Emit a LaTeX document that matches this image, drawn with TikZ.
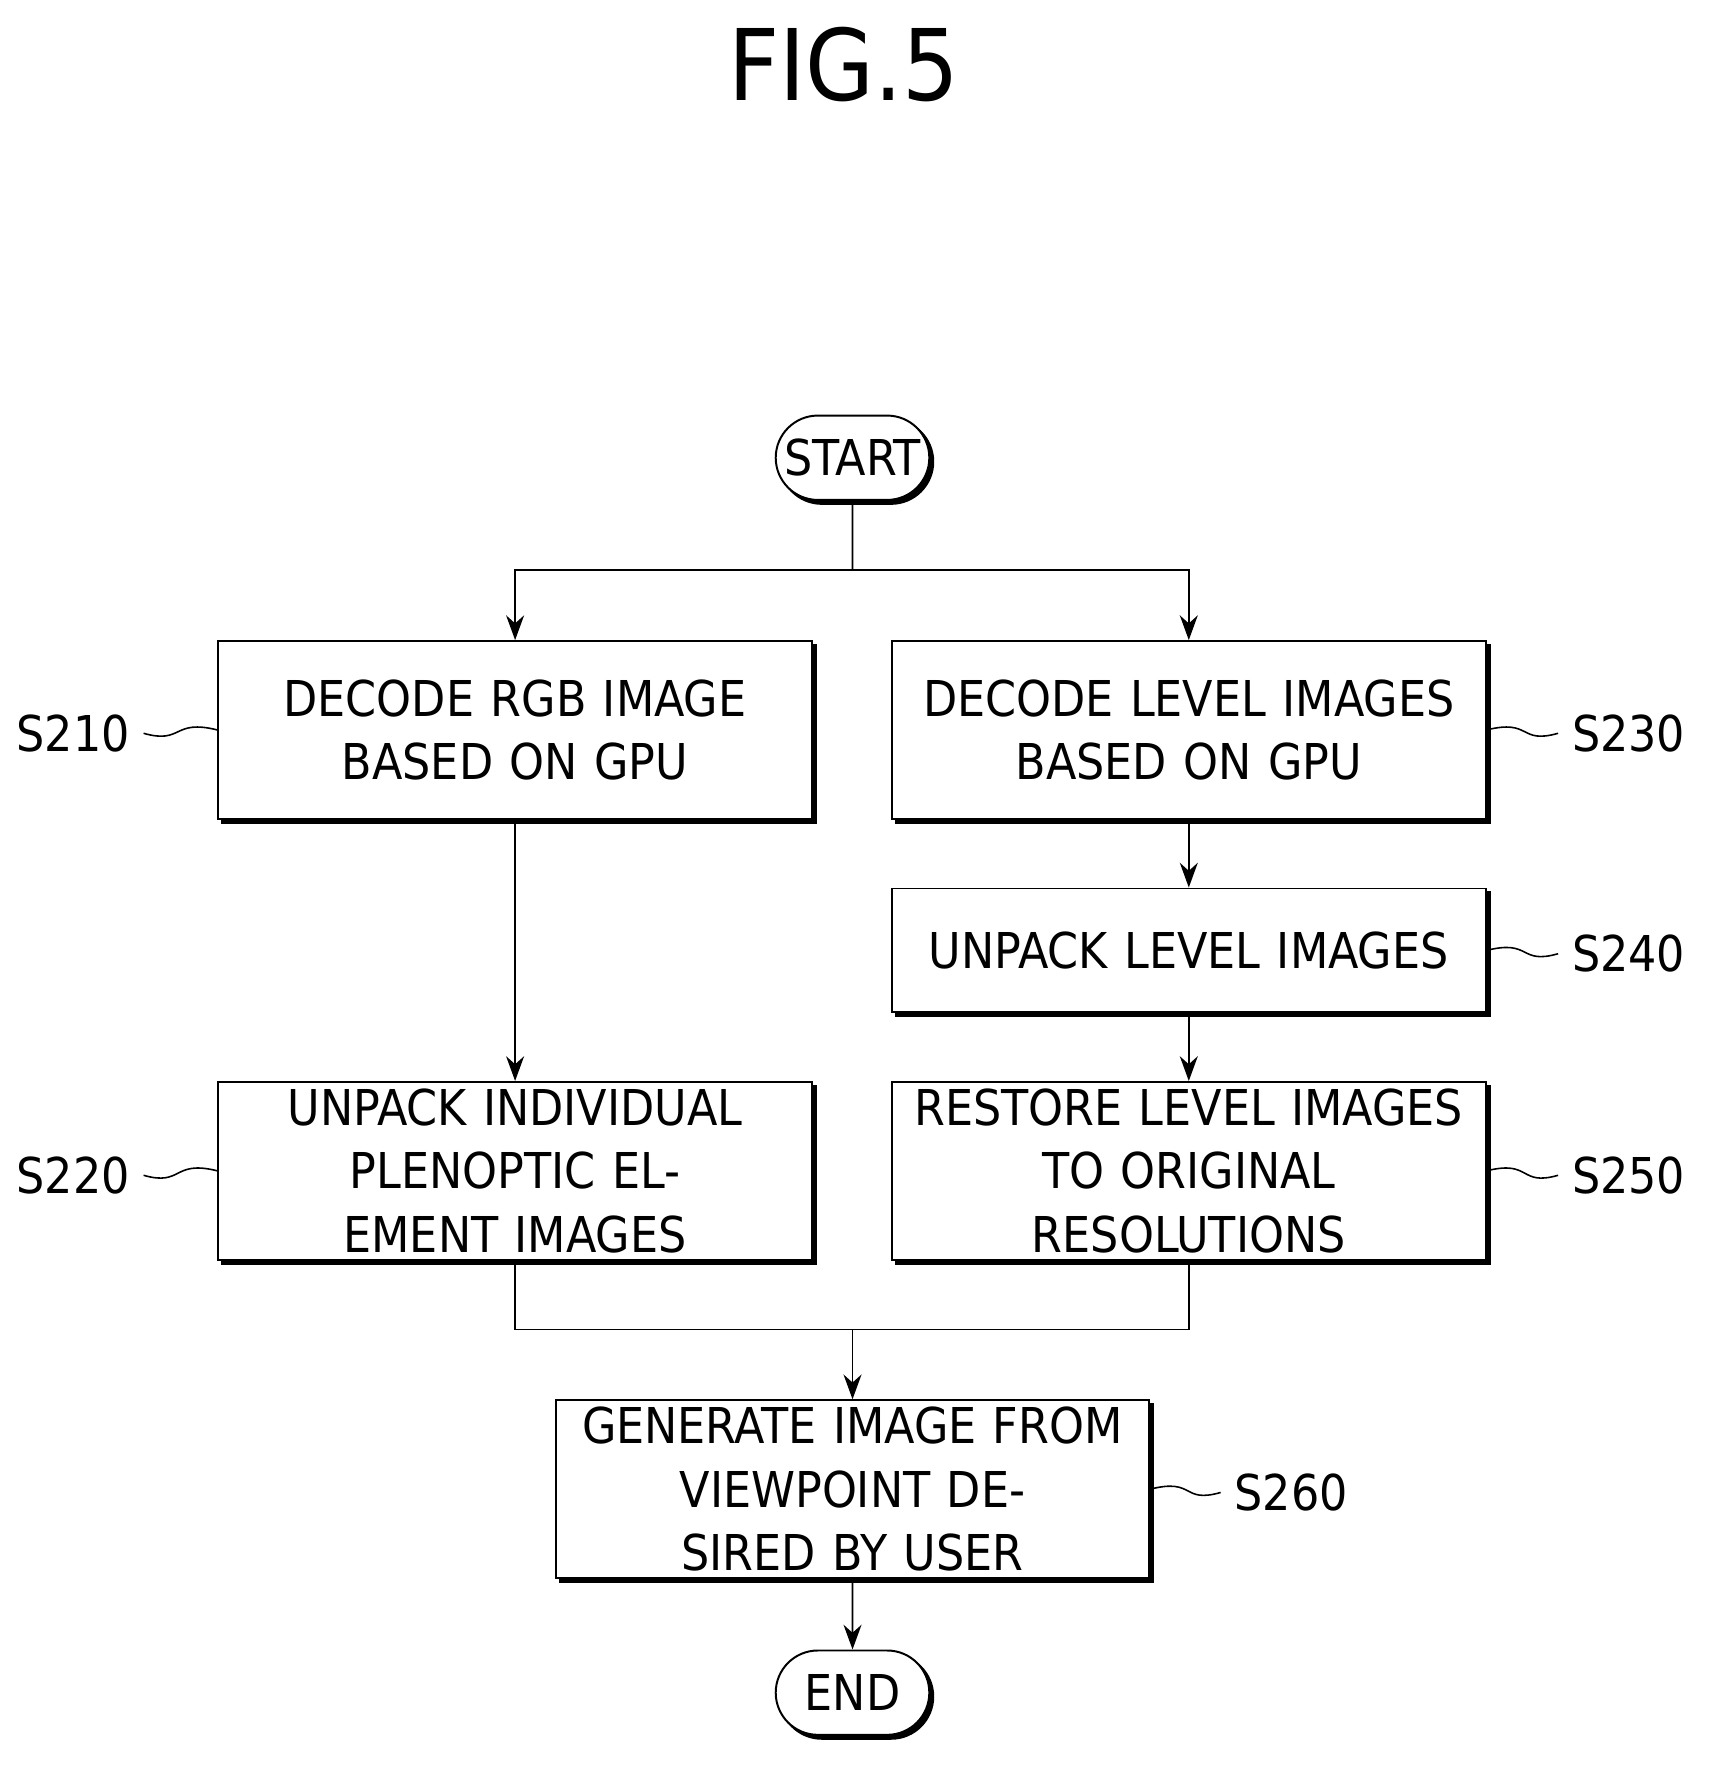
\documentclass[tikz,border=0pt]{standalone}
\usepackage{fontspec}
\setmainfont{DejaVu Sans Condensed}
\usepackage{tikz}
\usetikzlibrary{arrows.meta,positioning,shapes.misc,shadows}

\begin{document}
\begin{tikzpicture}[x=0.1mm, y=-0.1mm, >={Stealth[length=2.2mm,width=1.6mm]},
  stage/.style={draw, fill=white, line width=0.5pt, text width=52.8mm, align=center,
    font=\fontsize{12.5}{16}\selectfont, inner sep=0pt,
    copy shadow={shadow xshift=0.35mm, shadow yshift=-0.35mm, draw, fill=black, line width=0.5pt}},
  term/.style={draw, fill=white, line width=0.5pt, rounded rectangle, minimum width=16mm, minimum height=7.5mm,
    font=\fontsize{12.5}{16}\selectfont,
    copy shadow={shadow xshift=0.35mm, shadow yshift=-0.35mm, draw, fill=black, line width=0.5pt}},
  tag/.style={font=\fontsize{12.5}{16}\selectfont},
  wave/.style={line width=0.4pt}]
\useasboundingbox (0,0) rectangle (1520,1572);

% Title
\node[font=\fontsize{25}{30}\selectfont] (title) at (750,57) {FIG.5};

% Terminals
\node[term] (start) at (758,407) {START};
\node[term] (end) at (758,1505) {END};

% Steps
\node[stage, minimum height=15.8mm] (s210) at (458,649) {DECODE RGB IMAGE\\BASED ON GPU};
\node[stage, minimum height=15.8mm] (s230) at (1057,649) {DECODE LEVEL IMAGES\\BASED ON GPU};
\node[stage, minimum height=11mm] (s240) at (1057,845) {UNPACK LEVEL IMAGES};
\node[stage, minimum height=15.8mm] (s220) at (458,1041) {UNPACK INDIVIDUAL\\PLENOPTIC ELEMENT IMAGES};
\node[stage, minimum height=15.8mm] (s250) at (1057,1041) {RESTORE LEVEL IMAGES\\TO ORIGINAL RESOLUTIONS};
\node[stage, minimum height=15.8mm] (s260) at (758,1324) {GENERATE IMAGE FROM\\VIEWPOINT DESIRED BY USER};

% Step numbers
\node[tag] (t210) at (65,652) {S210};
\node[tag] (t230) at (1448,652) {S230};
\node[tag] (t240) at (1448,848) {S240};
\node[tag] (t220) at (65,1045) {S220};
\node[tag] (t250) at (1448,1045) {S250};
\node[tag] (t260) at (1148,1327) {S260};

\draw[wave] (s210.west) .. controls +(-40,-10) and +(35,10) .. (t210.east);
\draw[wave] (s220.west) .. controls +(-40,-10) and +(35,10) .. (t220.east);
\draw[wave] (s230.east) .. controls +(40,-10) and +(-35,10) .. (t230.west);
\draw[wave] (s240.east) .. controls +(40,-10) and +(-35,10) .. (t240.west);
\draw[wave] (s250.east) .. controls +(40,-10) and +(-35,10) .. (t250.west);
\draw[wave] (s260.east) .. controls +(40,-10) and +(-35,10) .. (t260.west);

% Flow
\coordinate (split) at (758,507);
\coordinate (merge) at (758,1182);
\draw (start) -- (split);
\draw[->] (split) -| (s210);
\draw[->] (split) -| (s230);
\draw[->] (s210) -- (s220);
\draw[->] (s230) -- (s240);
\draw[->] (s240) -- (s250);
\draw (s220) |- (merge);
\draw (s250) |- (merge);
\draw[->] (merge) -- (s260);
\draw[->] (s260) -- (end);
\end{tikzpicture}
\end{document}
